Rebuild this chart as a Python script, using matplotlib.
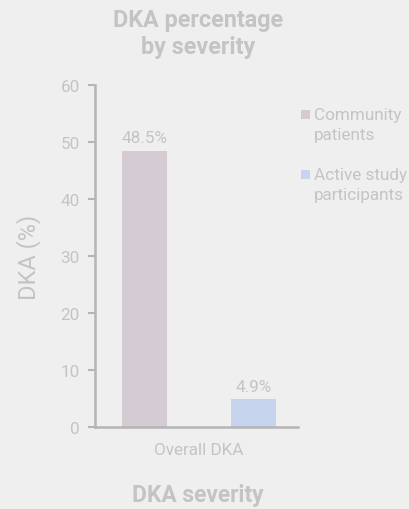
import matplotlib
matplotlib.use("Agg")
import matplotlib.pyplot as plt
from matplotlib.patches import Rectangle

plt.rcParams['font.family'] = ['Roboto', 'DejaVu Sans']

categories = ["Overall DKA"]
series_names = ["Community\npatients", "Active study\nparticipants"]
community = [48.5]
active = [4.9]
y_ticks = [0, 10, 20, 30, 40, 50, 60]

bg = "#efefef"
txt = "#c4c4c4"
axc = "#b5b5b5"
c1 = "#d5ccd3"
c2 = "#c6d4ee"
colors = [c1, c2]

fig = plt.figure(figsize=(4.09, 5.10), dpi=100, facecolor=bg)
ax = fig.add_axes([95/409, 1-428/510, (298-95)/409, (428-86)/510])
ax.set_facecolor(bg)

w = 0.825
ax.bar([0], community, width=w, color=c1)
ax.bar([2], active, width=w, color=c2)
for x, v in [(0, community[0]), (2, active[0])]:
    ax.text(x, v + 0.9, f"{v}%", ha="center", va="bottom", color=txt, fontsize=12.3)

ax.set_xlim(-0.908, 2.817)
ax.set_ylim(0, 60)
ax.set_yticks(y_ticks)
ax.set_xticks([1])
ax.set_xticklabels(categories)
for s in ["top", "right"]:
    ax.spines[s].set_visible(False)
for s in ["left", "bottom"]:
    ax.spines[s].set_color(axc)
    ax.spines[s].set_linewidth(1.8)
ax.tick_params(axis="y", colors=axc, labelcolor=txt, labelsize=12.3, length=5, width=1.5, pad=6)
ax.tick_params(axis="x", colors=axc, labelcolor=txt, labelsize=12.3, length=0, pad=11)

ax.set_ylabel("DKA (%)", color=txt, fontsize=17, fontweight="normal", labelpad=14)
fig.text(198/409, 1-496/510, "DKA severity", ha="center", va="center", color=txt, fontsize=16.4, fontweight="bold")
fig.text(198/409, 1-34/510, "DKA percentage\nby severity", ha="center", va="center", color=txt, fontsize=16.8, fontweight="bold", linespacing=1.25)

# legend (swatch aligned with first line of each label)
first_baselines = [120, 180]
line_px = 20
for name, col, yb in zip(series_names, colors, first_baselines):
    fig.text(314/409, 1-(yb + line_px)/510, name, ha="left", va="baseline", color=txt, fontsize=12.3, linespacing=1.4)
    fig.patches.append(Rectangle((301/409, 1-yb/510), 9/409, 9/510, transform=fig.transFigure,
                                 facecolor=col, edgecolor="none"))

fig.savefig("out.png", dpi=100, facecolor=bg)
